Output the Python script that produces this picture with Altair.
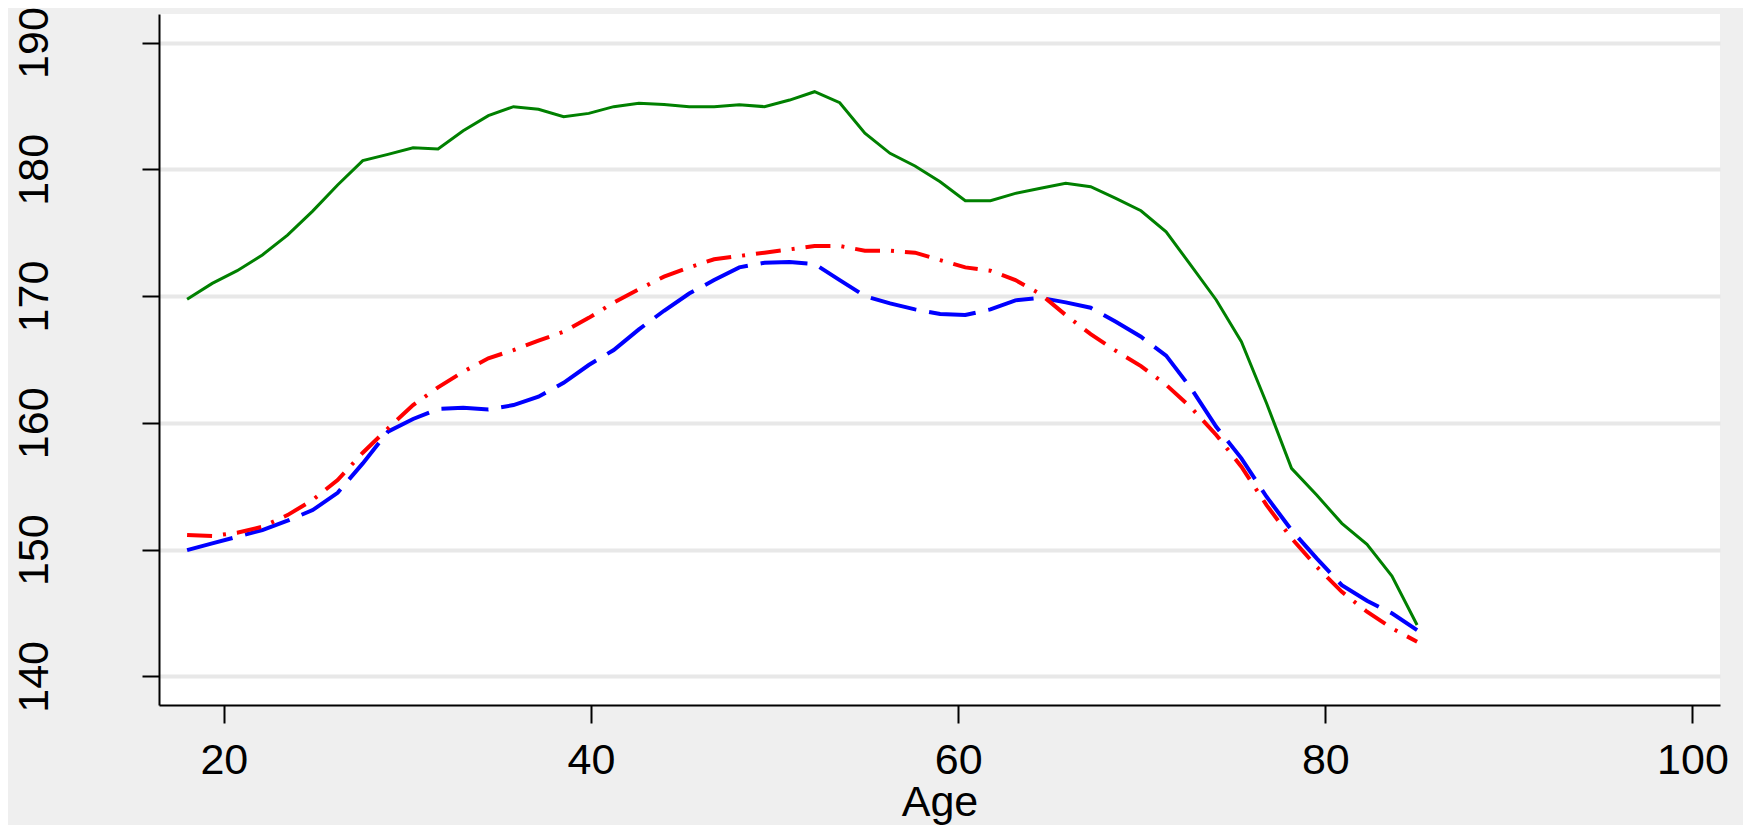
import altair as alt
import pandas as pd

ages = [18.00, 19.37, 20.73, 22.10, 23.47, 24.84, 26.20, 27.57, 28.94, 30.31,
        31.67, 33.04, 34.41, 35.78, 37.14, 38.51, 39.88, 41.24, 42.61, 43.98,
        45.35, 46.71, 48.08, 49.45, 50.82, 52.18, 53.55, 54.92, 56.29, 57.65,
        59.02, 60.39, 61.76, 63.12, 64.49, 65.86, 67.22, 68.59, 69.96, 71.33,
        72.69, 74.06, 75.43, 76.80, 78.16, 79.53, 80.90, 82.27, 83.63, 85.00]

green_vals = [169.74, 171.0, 172.0, 173.24, 174.8, 176.7, 178.76, 180.68, 181.18, 181.7,
              181.6, 183.04, 184.23, 184.94, 184.73, 184.15, 184.41, 184.94, 185.2, 185.12,
              184.94, 184.94, 185.1, 184.94, 185.46, 186.12, 185.25, 182.84, 181.26, 180.26,
              179.02, 177.52, 177.52, 178.1, 178.5, 178.89, 178.63, 177.71, 176.73, 175.07,
              172.4, 169.69, 166.4, 161.54, 156.41, 154.3, 152.07, 150.41, 147.91, 144.05]

red_vals = [151.15, 151.07, 151.33, 151.8, 152.72, 153.91, 155.49, 157.64, 159.56, 161.4,
            162.8, 164.03, 165.09, 165.74, 166.48, 167.19, 168.28, 169.49, 170.53, 171.53,
            172.26, 172.9, 173.16, 173.42, 173.68, 173.95, 173.95, 173.58, 173.58, 173.42,
            172.84, 172.26, 172.0, 171.26, 170.15, 168.5, 167.0, 165.68, 164.47, 163.0,
            161.2, 159.04, 156.54, 153.51, 150.89, 148.65, 146.67, 145.1, 143.79, 142.73]

blue_vals = [149.96, 150.49, 151.01, 151.54, 152.28, 153.12, 154.48, 156.8, 159.3, 160.3,
             161.09, 161.19, 161.06, 161.4, 162.06, 163.16, 164.56, 165.74, 167.37, 168.84,
             170.2, 171.26, 172.26, 172.63, 172.68, 172.53, 171.26, 170.0, 169.42, 168.95,
             168.58, 168.5, 168.95, 169.66, 169.86, 169.5, 169.08, 167.97, 166.79, 165.3,
             162.72, 159.69, 157.2, 154.17, 151.54, 149.31, 147.2, 145.96, 144.97, 143.65]

y_ticks = [140, 150, 160, 170, 180, 190]
x_ticks = [20, 40, 60, 80, 100]

FONT = "Liberation Sans"

df = pd.DataFrame({
    "Age": ages * 3,
    "value": green_vals + red_vals + blue_vals,
    "series": ["green"] * 50 + ["red"] * 50 + ["blue"] * 50,
})

x_enc = alt.X(
    "Age:Q",
    scale=alt.Scale(domain=[16.47, 101.5], nice=False, zero=False),
    axis=alt.Axis(
        values=x_ticks, title="Age", grid=False,
        domainColor="black", domainWidth=2,
        tickColor="black", tickWidth=2, tickSize=18,
        labelFont=FONT, labelFontSize=43, labelColor="black", labelPadding=16,
        labelFlush=False,
        titleFont=FONT, titleFontSize=43, titleFontWeight="normal", titleColor="black",
        titleY=110, titleBaseline="alphabetic",
    ),
)
y_enc = alt.Y(
    "value:Q",
    scale=alt.Scale(domain=[137.74, 192.25], nice=False, zero=False),
    axis=alt.Axis(
        values=y_ticks, title=None, grid=True,
        gridColor="#e8e8e8", gridWidth=4,
        domainColor="black", domainWidth=2,
        tickColor="black", tickWidth=2, tickSize=17,
        labelFont=FONT, labelFontSize=43, labelColor="black",
        labelAngle=270, labelAlign="center", labelBaseline="alphabetic",
        labelPadding=95, labelFlush=False,
    ),
)

base = alt.Chart(df)

green = base.transform_filter(alt.datum.series == "green").mark_line(
    color="#008000", strokeWidth=3
).encode(x=x_enc, y=y_enc, order="Age:Q")

blue = base.transform_filter(alt.datum.series == "blue").mark_line(
    color="#0000ff", strokeWidth=4, strokeDash=[47, 13]
).encode(x=x_enc, y=y_enc, order="Age:Q")

red = base.transform_filter(alt.datum.series == "red").mark_line(
    color="#ff0000", strokeWidth=4, strokeDash=[25, 11, 3, 11]
).encode(x=x_enc, y=y_enc, order="Age:Q")

chart = alt.layer(green, blue, red).properties(
    width=1561,
    height=691,
    autosize=alt.AutoSizeParams(type="none"),
    padding={"left": 151, "top": 6, "right": 23, "bottom": 120},
    background="#efefef",
).configure_view(
    fill="white", strokeWidth=0
)

chart.save("out.html", embed_options={"renderer": "svg", "actions": False})
